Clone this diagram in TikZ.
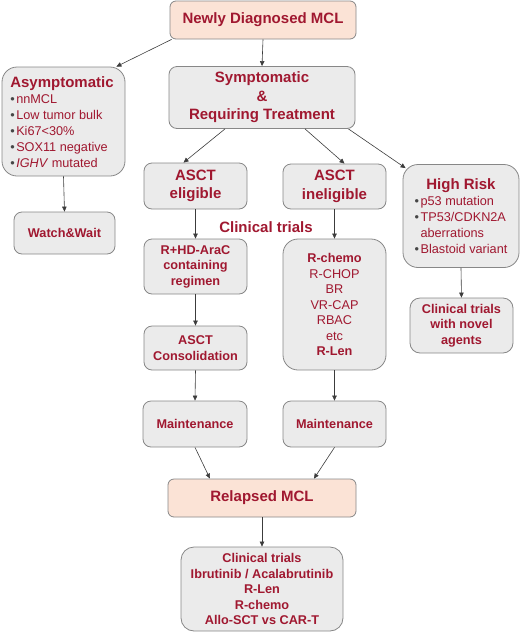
\documentclass[tikz,border=0pt]{standalone}
\usepackage{fontspec}
\setmainfont{Liberation Sans}
\usetikzlibrary{arrows.meta}
\definecolor{textred}{RGB}{160,24,48}
\definecolor{boxgray}{RGB}{235,235,235}
\definecolor{bordergray}{RGB}{135,135,135}
\definecolor{pinkfill}{RGB}{251,227,214}
\definecolor{arrowgray}{RGB}{60,60,60}
\definecolor{bulletgray}{RGB}{70,70,70}
\newcommand\bul{{\color{bulletgray}\textbullet}\hspace{1.5pt}}
\newcommand\bigf{\fontsize{15}{18}\selectfont}
\begin{document}
\begin{tikzpicture}[x=1pt,y=-1pt,
  box/.style={draw=bordergray, fill=boxgray, rounded corners=8pt, line width=0.8pt,
    text=textred, inner sep=0pt, align=center,
    font=\bfseries\fontsize{12.7}{15.5}\selectfont},
  listbox/.style={box, font=\fontsize{12.7}{16}\selectfont, rounded corners=15pt},
  pinkbox/.style={box, fill=pinkfill, rounded corners=6pt, font=\bfseries\fontsize{15}{18}\selectfont},
  titlebox/.style={box, font=\bfseries\fontsize{15}{18.5}\selectfont},
  arr/.style={-{Triangle[length=5pt,width=4.5pt]}, draw=arrowgray, line width=0.6pt}
]
\useasboundingbox (0,0) rectangle (520,633);

\node[pinkbox, minimum width=186pt, minimum height=38pt] (newly) at (263,20) {Newly Diagnosed MCL};
\node[titlebox, minimum width=186pt, minimum height=62pt] (sym) at (262,97.5) {Symptomatic\\\&\\Requiring Treatment};
\node[listbox, minimum width=123pt, minimum height=109pt] (asym) at (63.5,121.5)
  {\hspace*{-3pt}\begin{tabular}{@{}l@{}}
   \rule{0pt}{17pt}{\bigf\bfseries Asymptomatic}\\
   \bul nnMCL\\
   \bul Low tumor bulk\\
   \bul Ki67<30\%\\
   \bul SOX11 negative\\
   \bul\textit{IGHV} mutated
   \end{tabular}};
\node[titlebox, minimum width=103pt, minimum height=46pt] (elig) at (195.5,186) {ASCT\\eligible};
\node[titlebox, minimum width=103pt, minimum height=45pt] (inelig) at (334.5,186.5) {ASCT\\ineligible};
\node[listbox, minimum width=116pt, minimum height=103pt] (hr) at (461,216)
  {\begin{tabular}{@{}l@{}}
   \multicolumn{1}{@{}c@{}}{\rule{0pt}{16pt}\bigf\bfseries High Risk}\\
   \bul p53 mutation\\
   \bul TP53/CDKN2A\\
   \phantom{\bul}aberrations\\
   \bul Blastoid variant
   \end{tabular}};
\node[box, minimum width=101pt, minimum height=42pt] (ww) at (64.5,233) {Watch\&Wait};
\node[text=textred, font=\bfseries\fontsize{15}{18}\selectfont, inner sep=0pt] (ct) at (266,227) {Clinical trials};
\node[box, minimum width=103pt, minimum height=55pt] (rhd) at (195.5,266.5) {R+HD-AraC\\containing\\regimen};
\node[box, minimum width=103pt, minimum height=44pt] (cons) at (195.5,348) {ASCT\\Consolidation};
\node[listbox, font=\fontsize{12.7}{15.5}\selectfont, minimum width=103pt, minimum height=131pt] (rchemo) at (334.5,304.5)
  {\textbf{R-chemo}\\R-CHOP\\BR\\VR-CAP\\RBAC\\etc\\\textbf{R-Len}};
\node[box, rounded corners=10pt, minimum width=103pt, minimum height=55pt] (novel) at (461.5,325.5) {Clinical trials\\with novel\\agents};
\node[box, minimum width=104pt, minimum height=46pt] (maintL) at (195,424) {Maintenance};
\node[box, minimum width=103pt, minimum height=46pt] (maintR) at (334.5,424) {Maintenance};
\node[pinkbox, minimum width=188pt, minimum height=38pt] (relapsed) at (262,498) {Relapsed MCL};
\node[box, rounded corners=13pt, minimum width=162pt, minimum height=84pt] (final) at (262,589)
  {Clinical trials\\Ibrutinib / Acalabrutinib\\R-Len\\R-chemo\\Allo-SCT vs CAR-T};

\draw[arr] ([xshift=2pt]newly.south west) -- ([xshift=-9pt]asym.north east);
\draw[arr] (newly.south) -- (sym.north);
\draw[arr] ([xshift=-37pt]sym.south) -- ([xshift=-12pt]elig.north);
\draw[arr] ([xshift=43pt]sym.south) -- ([xshift=10pt]inelig.north);
\draw[arr] ([xshift=-7pt]sym.south east) -- ([shift={(3pt,-4pt)}]hr.north west);
\draw[arr] (asym.south) -- (ww.north);
\draw[arr] (elig.south) -- (rhd.north);
\draw[arr] (rhd.south) -- (cons.north);
\draw[arr] (inelig.south) -- (rchemo.north);
\draw[arr] (hr.south) -- (novel.north);
\draw[arr] (cons.south) -- (maintL.north);
\draw[arr] (rchemo.south) -- (maintR.north);
\draw[arr] (maintL.south) -- ([xshift=-52pt]relapsed.north);
\draw[arr] (maintR.south) -- ([xshift=52pt]relapsed.north);
\draw[arr] (relapsed.south) -- (final.north);
\end{tikzpicture}
\end{document}
